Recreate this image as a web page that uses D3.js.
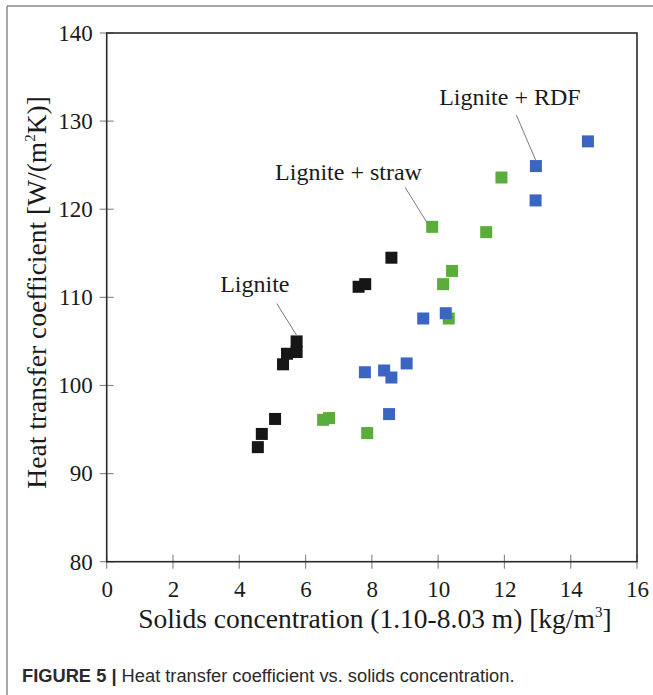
<!DOCTYPE html>
<html>
<head>
<meta charset="utf-8">
<script src="https://cdn.jsdelivr.net/npm/d3@7"></script>
<style>
  html, body { margin: 0; padding: 0; background: #fff; }
  svg { display: block; }
</style>
</head>
<body>
<svg id="chart" width="653" height="695"></svg>
<script>
// ---- data ----
const xTicks = [0, 2, 4, 6, 8, 10, 12, 14, 16];
const yTicks = [80, 90, 100, 110, 120, 130, 140];

const ligniteX = [4.56, 4.68, 5.08, 5.32, 5.44, 5.73, 5.73, 7.60, 7.80, 8.59];
const ligniteY = [93.0, 94.5, 96.2, 102.4, 103.6, 103.8, 105.0, 111.2, 111.5, 114.5];

const strawX = [6.53, 6.71, 7.86, 9.82, 10.15, 10.42, 10.32, 11.45, 11.91];
const strawY = [96.1, 96.3, 94.6, 118.0, 111.5, 113.0, 107.6, 117.4, 123.6];

const rdfX = [7.79, 8.37, 8.59, 8.52, 9.05, 9.55, 10.23, 12.94, 12.95, 14.52];
const rdfY = [101.5, 101.7, 100.9, 96.75, 102.5, 107.6, 108.2, 121.0, 124.9, 127.7];

const seriesNames = ["Lignite", "Lignite + straw", "Lignite + RDF"];
const seriesColors = ["#161616", "#5aac3b", "#3a66c2"];

// annotation anchors in data units: [textX, textY, lineX1, lineY1, lineX2, lineY2]
const annLignite = [4.47, 110.6, 5.13, 109.3, 5.73, 105.7];
const annStraw = [5.08, 123.3, 9.0, 122.5, 9.66, 118.5];
const annRdf = [10.03, 131.8, 12.36, 130.7, 12.95, 125.5];

// ---- layout ----
const svg = d3.select("#chart");
const x = d3.scaleLinear().domain([0, 16]).range([106.7, 637]);
const y = d3.scaleLinear().domain([80, 140]).range([561.7, 33]);
const serif = "'Liberation Serif', 'Times New Roman', serif";

// outer figure frame
svg.append("line").attr("x1", 7).attr("y1", 6).attr("x2", 653).attr("y2", 6)
  .attr("stroke", "#8a8a8a").attr("stroke-width", 1.5);
svg.append("line").attr("x1", 7).attr("y1", 6).attr("x2", 7).attr("y2", 695)
  .attr("stroke", "#8a8a8a").attr("stroke-width", 1.5);

// ticks (crossing the axis)
const tickCol = "#8c8c8c";
svg.append("g").selectAll("line").data(yTicks).join("line")
  .attr("x1", x(0) - 7).attr("x2", x(0) + 7)
  .attr("y1", d => y(d)).attr("y2", d => y(d))
  .attr("stroke", tickCol).attr("stroke-width", 1.2);
svg.append("g").selectAll("line").data(xTicks).join("line")
  .attr("y1", y(80) - 7).attr("y2", y(80) + 7)
  .attr("x1", d => x(d)).attr("x2", d => x(d))
  .attr("stroke", tickCol).attr("stroke-width", 1.2);

// axis labels via d3 axes (no tick lines)
const gx = svg.append("g").attr("transform", `translate(0,${y(80)})`)
  .call(d3.axisBottom(x).tickValues(xTicks).tickSize(0).tickPadding(19).tickFormat(d3.format("d")));
gx.select(".domain").remove();
gx.selectAll("text").attr("font-family", serif).attr("font-size", 23).attr("fill", "#1a1a1a");

const gy = svg.append("g").attr("transform", `translate(${x(0)},0)`)
  .call(d3.axisLeft(y).tickValues(yTicks).tickSize(0).tickPadding(14).tickFormat(d3.format("d")));
gy.select(".domain").remove();
gy.selectAll("text").attr("font-family", serif).attr("font-size", 23).attr("fill", "#1a1a1a");

// plot box
svg.append("rect").attr("x", x(0)).attr("y", y(140))
  .attr("width", x(16) - x(0)).attr("height", y(80) - y(140))
  .attr("fill", "none").attr("stroke", "#2a2a2a").attr("stroke-width", 1.6);

// points
const size = 12;
const series = [
  d3.zip(ligniteX, ligniteY),
  d3.zip(strawX, strawY),
  d3.zip(rdfX, rdfY)
];
series.forEach((pts, i) => {
  svg.append("g").selectAll("rect").data(pts).join("rect")
    .attr("x", d => x(d[0]) - size / 2)
    .attr("y", d => y(d[1]) - size / 2)
    .attr("width", size).attr("height", size)
    .attr("fill", seriesColors[i]);
});

// annotations
[annLignite, annStraw, annRdf].forEach((a, i) => {
  svg.append("line")
    .attr("x1", x(a[2])).attr("y1", y(a[3]))
    .attr("x2", x(a[4])).attr("y2", y(a[5]))
    .attr("stroke", "#7a7a7a").attr("stroke-width", 1);
  svg.append("text")
    .attr("x", x(a[0])).attr("y", y(a[1]))
    .attr("text-anchor", i === 0 ? "middle" : "start")
    .attr("font-family", serif).attr("font-size", 24).attr("fill", "#1a1a1a")
    .text(seriesNames[i]);
});

// axis titles
const xt = svg.append("text").attr("x", (x(0) + x(16)) / 2 + 3).attr("y", 628)
  .attr("text-anchor", "middle").attr("font-family", serif).attr("font-size", 27.5).attr("fill", "#1a1a1a");
xt.append("tspan").text("Solids concentration (1.10-8.03 m) [kg/m");
xt.append("tspan").attr("font-size", 15).attr("dy", -11).text("3");
xt.append("tspan").attr("dy", 11).text("]");

const yt = svg.append("text")
  .attr("transform", `translate(46,${(y(80) + y(140)) / 2 - 5}) rotate(-90)`)
  .attr("text-anchor", "middle").attr("font-family", serif).attr("font-size", 27.5).attr("fill", "#1a1a1a");
yt.append("tspan").text("Heat transfer coefficient [W/(m");
yt.append("tspan").attr("font-size", 15).attr("dy", -11).text("2");
yt.append("tspan").attr("dy", 11).text("K)]");

// caption
const cap = svg.append("text").attr("x", 22).attr("y", 682)
  .attr("font-family", "'Liberation Sans', Arial, sans-serif").attr("font-size", 18.3).attr("fill", "#2a2a2a");
cap.append("tspan").attr("font-weight", "bold").text("FIGURE 5 | ");
cap.append("tspan").text("Heat transfer coefficient vs. solids concentration.");
</script>
</body>
</html>
